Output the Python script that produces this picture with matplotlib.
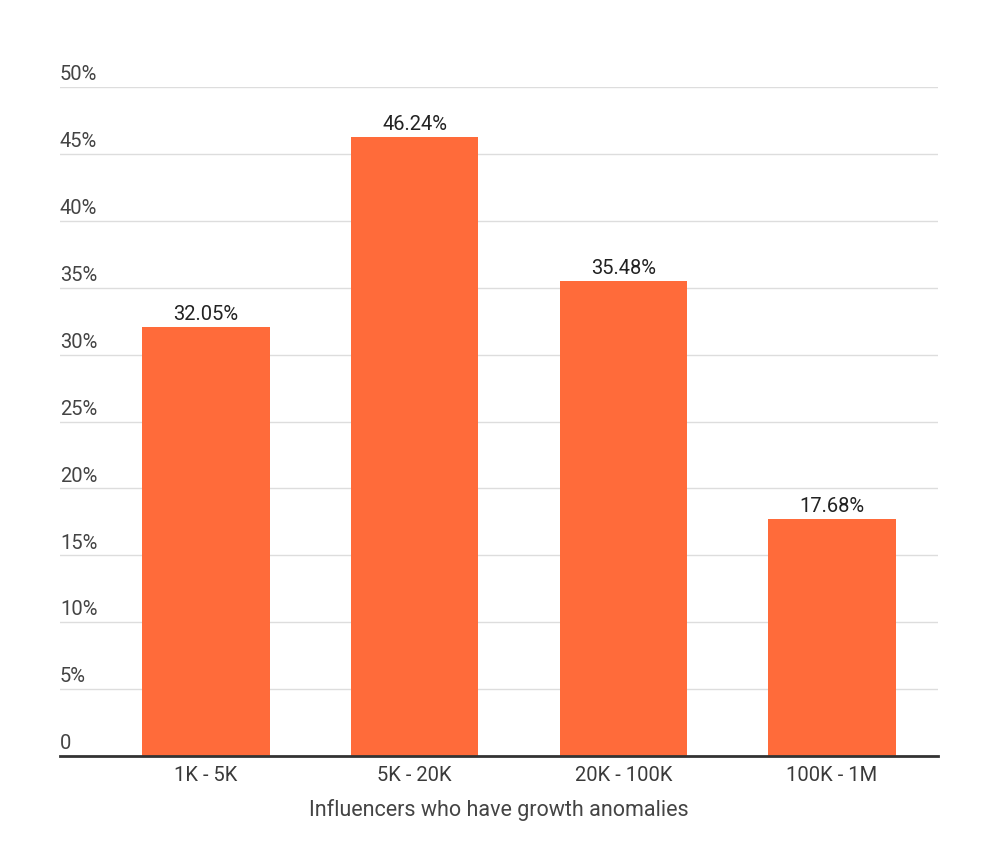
import matplotlib
matplotlib.use("Agg")
import matplotlib.pyplot as plt

categories = ["1K - 5K", "5K - 20K", "20K - 100K", "100K - 1M"]
values = [32.05, 46.24, 35.48, 17.68]
value_labels = ["32.05%", "46.24%", "35.48%", "17.68%"]
y_ticks = [0, 5, 10, 15, 20, 25, 30, 35, 40, 45, 50]
y_tick_labels = ["0", "5%", "10%", "15%", "20%", "25%", "30%", "35%", "40%", "45%", "50%"]
x_title = "Influencers who have growth anomalies"

plt.rcParams['font.family'] = ['Roboto', 'DejaVu Sans']

fig = plt.figure(figsize=(10, 8.59), dpi=100)
ax = fig.add_axes([0.060, 0.1199, 0.878, 0.7788])

bar_color = "#FF6B3A"
x = list(range(len(categories)))
ax.bar(x, values, width=0.61, color=bar_color, zorder=3)

ax.set_xlim(-0.70, 3.508)
ax.set_ylim(0, 50)

for s in ["top", "right", "left"]:
    ax.spines[s].set_visible(False)
ax.spines["bottom"].set_color("#333333")
ax.spines["bottom"].set_linewidth(2)
ax.spines["bottom"].set_zorder(4)

ax.set_yticks(y_ticks)
ax.set_yticklabels([])
ax.tick_params(axis="y", length=0)
ax.yaxis.grid(True, color="#DDDDDD", linewidth=1)
ax.set_axisbelow(True)

trans = ax.get_yaxis_transform()
for v, lab in zip(y_ticks, y_tick_labels):
    ax.annotate(lab, xy=(0, v), xycoords=trans, xytext=(0, 2), textcoords="offset points",
                ha="left", va="bottom", fontsize=14.5, color="#444444")

ax.set_xticks(x)
ax.set_xticklabels(categories, fontsize=14.5, color="#3a3a3a")
ax.tick_params(axis="x", length=0, pad=7)

for xi, v, lab in zip(x, values, value_labels):
    ax.annotate(lab, xy=(xi, v), xytext=(0, 2.5), textcoords="offset points",
                ha="center", va="bottom", fontsize=14.5, color="#222222")

ax.set_xlabel(x_title, fontsize=15.5, color="#444444", labelpad=10)

fig.savefig("out.png", dpi=100, facecolor="white")
